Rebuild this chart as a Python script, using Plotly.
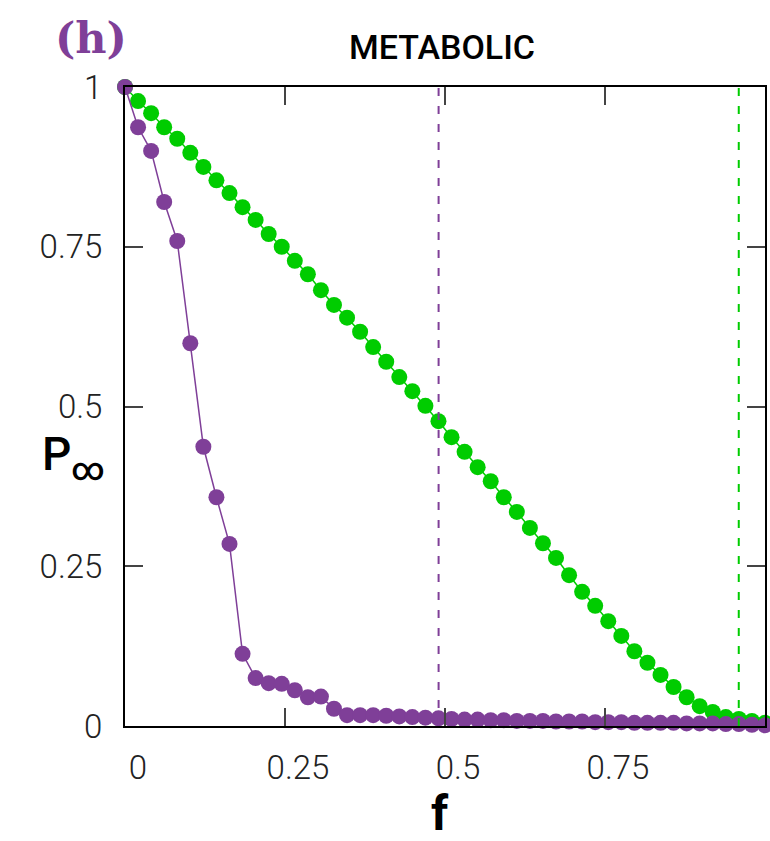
import plotly.graph_objects as go

# fraction of removed nodes (50 equally spaced values from 0 to 1)
n_points = 50
f_values = [k / (n_points - 1) for k in range(n_points)]

p_green = [1.000, 0.978, 0.959, 0.937, 0.919, 0.897, 0.875, 0.854, 0.834, 0.812,
           0.792, 0.770, 0.750, 0.728, 0.707, 0.682, 0.659, 0.639, 0.617, 0.593,
           0.570, 0.546, 0.524, 0.501, 0.477, 0.452, 0.429, 0.405, 0.383, 0.358,
           0.335, 0.310, 0.286, 0.263, 0.236, 0.210, 0.188, 0.164, 0.141, 0.117,
           0.099, 0.080, 0.061, 0.045, 0.031, 0.022, 0.014, 0.011, 0.008, 0.005]

p_purple = [1.000, 0.937, 0.900, 0.820, 0.759, 0.599, 0.437, 0.358, 0.285, 0.113,
            0.075, 0.067, 0.066, 0.056, 0.045, 0.046, 0.027, 0.017, 0.017, 0.017,
            0.016, 0.015, 0.014, 0.013, 0.012, 0.011, 0.010, 0.010, 0.009, 0.009,
            0.008, 0.008, 0.008, 0.007, 0.007, 0.007, 0.006, 0.006, 0.006, 0.005,
            0.005, 0.005, 0.005, 0.004, 0.004, 0.004, 0.003, 0.003, 0.002, 0.001]

fc_purple = 0.49
fc_green = 0.959

tick_vals = [0, 0.25, 0.5, 0.75, 1]
tick_text = ["0", "0.25", "0.5", "0.75", "1"]

GREEN = "#00CC00"
PURPLE = "#7F3F98"

fig = go.Figure()

fig.add_trace(go.Scatter(
    x=f_values, y=p_green, mode="lines+markers",
    line=dict(color=GREEN, width=1.5),
    marker=dict(color=GREEN, size=16, line=dict(width=0)),
    showlegend=False, cliponaxis=False))

fig.add_trace(go.Scatter(
    x=f_values, y=p_purple, mode="lines+markers",
    line=dict(color=PURPLE, width=1.5),
    marker=dict(color=PURPLE, size=16, line=dict(width=0)),
    showlegend=False, cliponaxis=False))

fig.add_trace(go.Scatter(
    x=[fc_purple, fc_purple], y=[0, 1], mode="lines",
    line=dict(color=PURPLE, width=2, dash="8px,10px"),
    showlegend=False))

fig.add_trace(go.Scatter(
    x=[fc_green, fc_green], y=[0, 1], mode="lines",
    line=dict(color=GREEN, width=2, dash="8px,10px"),
    showlegend=False))

tickfont = dict(family="Roboto", size=33, color="#222222", weight=300)

fig.update_xaxes(
    range=[0, 1], tickvals=tick_vals, ticktext=tick_text,
    ticks="inside", ticklen=18, tickwidth=1.5, tickcolor="#444444",
    showline=True, linecolor="black", linewidth=2, mirror="allticks",
    showgrid=False, zeroline=False, tickfont=tickfont, automargin=False,
    ticklabelshift=13, ticklabelstandoff=11, ticklabeloverflow="allow")

fig.update_yaxes(
    range=[0, 1], tickvals=tick_vals, ticktext=tick_text,
    ticks="inside", ticklen=18, tickwidth=1.5, tickcolor="#444444",
    showline=True, linecolor="black", linewidth=2, mirror="allticks",
    showgrid=False, zeroline=False, tickfont=tickfont, automargin=False,
    ticklabelstandoff=14, ticklabeloverflow="allow")

fig.update_layout(
    width=770, height=841, autosize=False,
    margin=dict(l=125, r=5, t=87, b=115, autoexpand=False),
    plot_bgcolor="white", paper_bgcolor="white",
    annotations=[
        dict(text="METABOLIC", xref="paper", yref="paper", x=0.495, y=1.0626,
             xanchor="center", yanchor="middle", showarrow=False,
             font=dict(family="Roboto", size=34, color="black", weight=500)),
        dict(text="(h)", xref="paper", yref="paper", x=-0.053, y=1.077,
             xanchor="center", yanchor="middle", showarrow=False,
             font=dict(family="DejaVu Serif", size=43, color=PURPLE, weight="bold")),
        dict(text="P<sub>∞</sub>", xref="paper", yref="paper", x=-0.133, y=0.42,
             xanchor="left", yanchor="middle", showarrow=False,
             font=dict(family="Roboto", size=46, color="black", weight=500)),
        dict(text="f", xref="paper", yref="paper", x=0.492, y=-0.1377,
             xanchor="center", yanchor="middle", showarrow=False,
             font=dict(family="Roboto", size=48, color="black", weight="bold")),
    ])

fig.write_html("out.html")
